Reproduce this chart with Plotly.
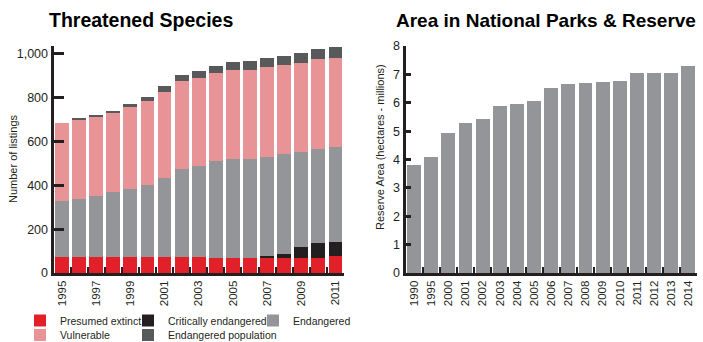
import plotly.graph_objects as go

# ---- Threatened species listings (stacked), 1995-2011 ----
species_years = [str(y) for y in range(1995, 2012)]
presumed_extinct = [74, 74, 74, 74, 74, 74, 74, 74, 74, 70, 70, 70, 70, 70, 70, 70, 79]
critically_endangered = [0, 0, 0, 0, 0, 0, 0, 0, 0, 0, 0, 0, 8, 17, 49, 67, 63]
endangered = [255, 264, 278, 296, 310, 328, 360, 401, 415, 441, 451, 451, 452, 456, 433, 429, 433]
vulnerable = [356, 361, 360, 361, 374, 383, 392, 402, 401, 402, 406, 406, 411, 407, 407, 411, 407]
endangered_population = [0, 6, 9, 9, 14, 19, 28, 27, 32, 32, 36, 41, 41, 41, 46, 46, 50]
species_tick_text = [y if i % 2 == 0 else "" for i, y in enumerate(species_years)]

# ---- Area in national parks & reserves (hectares, millions) ----
area_years = ["1990", "1995", "2000", "2001", "2002", "2003", "2004", "2005", "2006",
              "2007", "2008", "2009", "2010", "2011", "2012", "2013", "2014"]
reserve_area = [3.82, 4.08, 4.94, 5.27, 5.41, 5.90, 5.94, 6.07, 6.51,
                6.65, 6.68, 6.72, 6.76, 7.05, 7.05, 7.05, 7.30]

W, H = 703, 342
SANS = "Liberation Sans, Arial, sans-serif"
INK = "#231F20"

RED = "#E2202A"
BLACK = "#231F20"
GREY = "#939598"
PINK = "#E89396"
DARK = "#58595B"


def px_x(p):
    return p / W


def px_y(p):
    return 1 - p / H


fig = go.Figure()

series = [
    ("Presumed extinct", presumed_extinct, RED, "legend"),
    ("Critically endangered", critically_endangered, BLACK, "legend2"),
    ("Endangered", endangered, GREY, "legend3"),
    ("Vulnerable", vulnerable, PINK, "legend4"),
    ("Endangered population", endangered_population, DARK, "legend5"),
]
for name, vals, color, leg in series:
    fig.add_trace(go.Bar(
        x=species_years, y=vals, name=name, marker=dict(color=color, line=dict(width=0)),
        xaxis="x", yaxis="y", legend=leg,
    ))

fig.add_trace(go.Bar(
    x=area_years, y=reserve_area, name="Reserve area", showlegend=False,
    marker=dict(color=GREY, line=dict(width=0)), xaxis="x2", yaxis="y2",
))

ydom = [px_y(273), px_y(46)]

axis_common = dict(
    showgrid=False, zeroline=False, showline=True, linecolor=INK, linewidth=3,
    ticks="inside", tickcolor=INK, fixedrange=True,
)

fig.update_layout(
    width=W, height=H,
    margin=dict(l=0, r=0, t=0, b=0, autoexpand=False),
    paper_bgcolor="white", plot_bgcolor="white",
    barmode="stack", bargap=0.19,
    font=dict(family=SANS, color=INK, size=11),
    xaxis=dict(
        **axis_common, domain=[px_x(53.5), px_x(344)], type="category",
        tickmode="array", tickvals=species_years, ticktext=species_tick_text,
        tickson="boundaries", ticklen=6, tickwidth=2, tickangle=-90,
        tickfont=dict(size=11.5, family=SANS, color=INK),
        anchor="y",
    ),
    yaxis=dict(
        **axis_common, domain=ydom, range=[0, 1036], tickvals=[0, 200, 400, 600, 800, 1000],
        ticktext=["0", "200", "400", "600", "800", "1,000"],
        ticklen=10, tickwidth=3, tickfont=dict(size=12.5, family=SANS, color=INK),
        anchor="x",
    ),
    xaxis2=dict(
        **axis_common, domain=[px_x(405.5), px_x(697)], type="category",
        tickmode="array", tickvals=area_years, ticktext=area_years,
        tickson="boundaries", ticklen=6, tickwidth=2, tickangle=-90,
        tickfont=dict(size=11.5, family=SANS, color=INK),
        anchor="y2",
    ),
    yaxis2=dict(
        **axis_common, domain=ydom, range=[0, 8], dtick=1,
        ticklen=5, tickwidth=3, tickfont=dict(size=12.5, family=SANS, color=INK),
        anchor="x2",
    ),
    annotations=[
        dict(text="<b>Threatened Species</b>", x=px_x(47), y=px_y(20), xref="paper", yref="paper",
             xanchor="left", yanchor="middle", showarrow=False,
             font=dict(family=SANS, size=19.5, color="black")),
        dict(text="<b>Area in National Parks & Reserve</b>", x=px_x(394), y=px_y(20), xref="paper",
             yref="paper", xanchor="left", yanchor="middle", showarrow=False,
             font=dict(family=SANS, size=19, color="black")),
        dict(text="Number of listings", x=px_x(13), y=px_y(159), xref="paper",
             yref="paper", xanchor="center", yanchor="middle", showarrow=False, textangle=-90,
             font=dict(family=SANS, size=11, color=INK)),
        dict(text="Reserve Area (hectares - millions)", x=px_x(380), y=px_y(147), xref="paper",
             yref="paper", xanchor="center", yanchor="middle", showarrow=False, textangle=-90,
             font=dict(family=SANS, size=11, color=INK)),
    ],
)

# legend entries laid out in two rows beneath the species chart
legend_pos = {
    "legend": (60, 320.5),
    "legend2": (168, 320.5),
    "legend3": (293, 320.5),
    "legend4": (60, 335),
    "legend5": (168, 335),
}
for key, (tx, ty) in legend_pos.items():
    fig.update_layout({key: dict(
        x=px_x(tx - 40), y=px_y(ty), xanchor="left", yanchor="middle",
        orientation="h", bgcolor="rgba(0,0,0,0)", borderwidth=0,
        font=dict(family=SANS, size=10.5, color=INK), itemclick=False, itemdoubleclick=False,
    )})

fig.write_html("out.html", config=dict(displayModeBar=False))
